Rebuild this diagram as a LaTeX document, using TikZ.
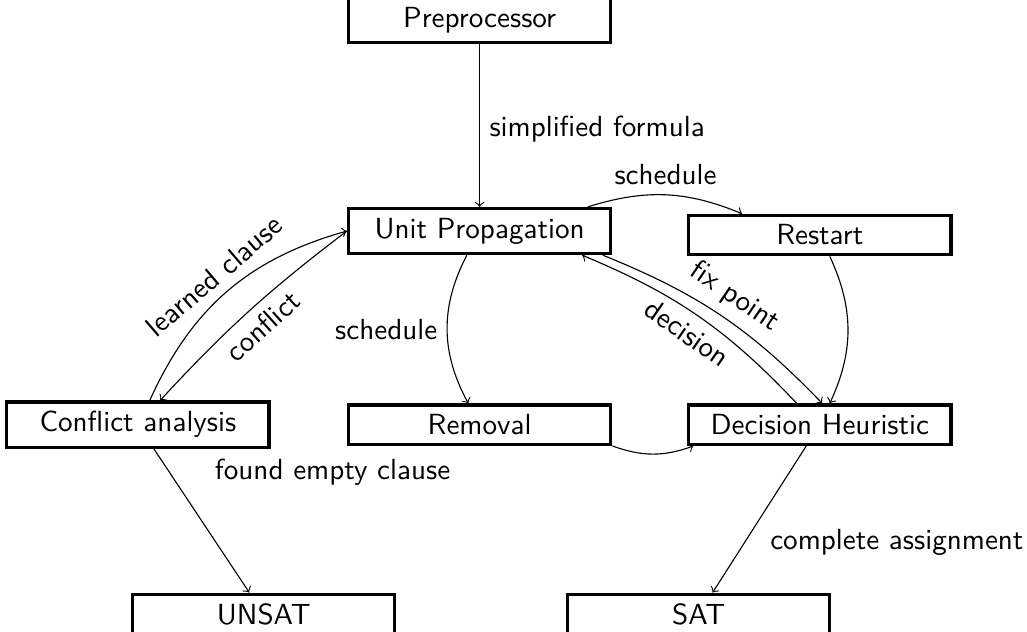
\documentclass[tikz,border=0pt]{standalone}
\usepackage{tikz}
\usetikzlibrary{arrows,positioning}

\begin{document}
\begin{tikzpicture}[->, >=to, font=\sffamily\fontsize{10.4}{12.5}\selectfont, state/.style={rectangle, draw, very thick, minimum width=3.29cm}]
\useasboundingbox (0,0) rectangle (12.89,7.93);
\node[state] (pre) at (6.02,7.68) {Preprocessor};
\node[state] (up) at (6.02,5.03) {Unit Propagation};
\node[state] (restart) at (10.29,4.98) {Restart};
\node[state] (ca) at (1.73,2.60) {Conflict analysis};
\node[state] (rem) at (6.02,2.60) {Removal};
\node[state] (dh) at (10.29,2.60) {Decision Heuristic};
\node[state] (unsat) at (3.31,0.22) {UNSAT};
\node[state] (sat) at (8.77,0.22) {SAT};
\path
(pre) edge node[right, pos=0.52] {simplified formula} (up)
([xshift=-0.31cm]up.north east) edge[bend left=20] node[above] {schedule} ([xshift=0.69cm]restart.north west)
(up) edge[bend right=28] node[left] {schedule} (rem)
(restart) edge[bend left=25] (dh)
([xshift=-0.12cm]up.south east) edge[bend left=12] node[above,sloped] {fix point} ([xshift=0.03cm]dh.north)
([xshift=-0.29cm]dh.north) edge[bend right=12] node[below,sloped] {decision} ([xshift=-0.38cm]up.south east)
([xshift=0.15cm]ca.north) edge[bend left=25] node[above,sloped] {learned clause} (up.west)
(up.west) edge[bend right=5] node[below,sloped] {conflict} ([xshift=0.28cm]ca.north)
(rem.south east) edge[bend right=20] ([xshift=0.08cm]dh.south west)
(ca) edge node[right=0.45cm, pos=0.16] {found empty clause} (unsat)
(dh) edge node[right=0.2cm, pos=0.66] {complete assignment} (sat);
\end{tikzpicture}
\end{document}
